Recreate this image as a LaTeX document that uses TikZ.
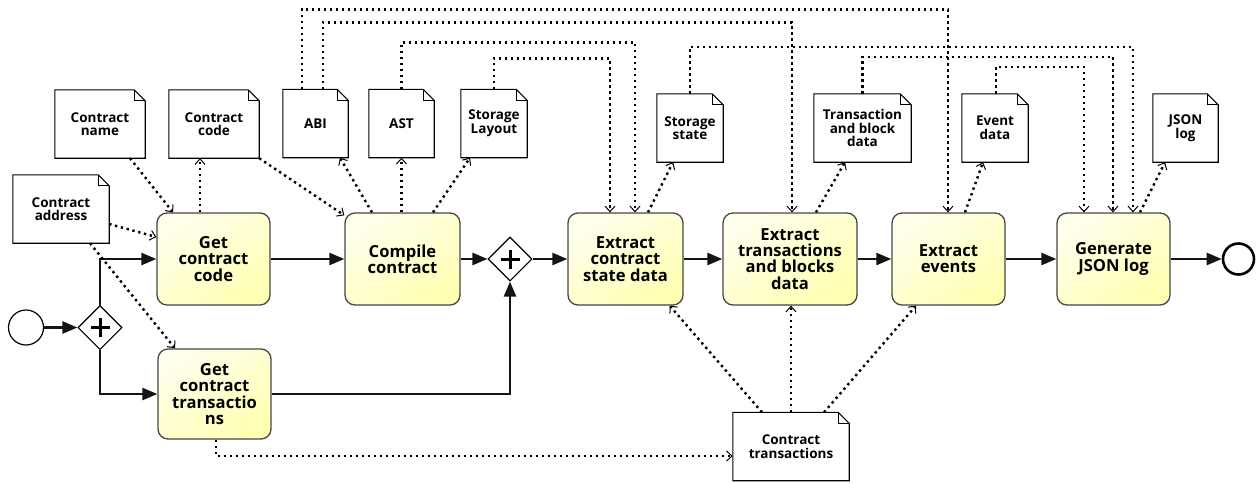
\documentclass[tikz,border=0pt]{standalone}
\usepackage{fontspec}
\setmainfont{Open Sans}
\usetikzlibrary{arrows.meta,shapes.geometric}

\tikzset{
  task/.style={rectangle, rounded corners=10pt, draw={rgb,255:red,70;green,70;blue,70},
    line width=1.3pt, top color={rgb,255:red,255;green,255;blue,236},
    bottom color={rgb,255:red,255;green,255;blue,180}, shading angle=35,
    minimum height=92pt, inner sep=0pt, align=center,
    font=\fontsize{16.6}{16.2}\selectfont\bfseries},
  dataobj/.style={rectangle, minimum height=68pt, inner sep=0pt, align=center,
    font=\fontsize{13.5}{13.6}\selectfont\bfseries},
  docline/.style={draw=black, fill=white, line width=1.1pt, line join=miter},
  gateway/.style={diamond, draw=black, fill=white, line width=1.1pt,
    minimum width=44pt, minimum height=44pt, inner sep=0pt,
    path picture={
      \draw[line width=3pt] ([xshift=-9.5pt]path picture bounding box.center)
        -- ([xshift=9.5pt]path picture bounding box.center);
      \draw[line width=3pt] ([yshift=-9.5pt]path picture bounding box.center)
        -- ([yshift=9.5pt]path picture bounding box.center);}},
  startev/.style={circle, draw=black, fill=white, line width=1.2pt,
    minimum size=35pt, inner sep=0pt},
  endev/.style={circle, draw=black, fill=white, line width=2.6pt,
    minimum size=31pt, inner sep=0pt},
  flow/.style={draw={rgb,255:red,20;green,20;blue,20}, line width=2.4pt,
    -{Triangle[length=15pt,width=12pt]}},
  assoc/.style={draw=black, line width=2.4pt, dash pattern=on 2.4pt off 3.6pt,
    -{Straight Barb[length=5.5pt,width=10pt,line width=1pt]}},
}

% a data object: named node with a folded-corner outline
\newcommand\dataobject[5]{%
  \node[dataobj, minimum width=#3] (#1) at (#2) {};
  \path[docline] (#1.south west) -- (#1.north west) -- ([xshift=-#4]#1.north east)
    -- ([yshift=-#4]#1.north east) -- (#1.south east) -- cycle;
  \draw[line width=1.1pt] ([xshift=-#4]#1.north east) -- ([xshift=-#4,yshift=-#4]#1.north east)
    -- ([yshift=-#4]#1.north east);
  \node[dataobj, minimum width=#3] at (#1.center) {#5};
}

\begin{document}
\begin{tikzpicture}[x=1pt,y=-1pt]
\useasboundingbox (0,0) rectangle (1258,483);

% events and gateways
\node[startev] (start) at (26,327.5) {};
\node[gateway] (g1) at (100,327.5) {};
\node[gateway] (g2) at (510,259) {};
\node[endev] (end) at (1238.5,259) {};

% tasks
\node[task, minimum width=113pt] (gcc) at (213.5,259) {Get\\contract\\code};
\node[task, minimum width=113pt, minimum height=90pt] (gct) at (214.5,394) {Get\\contract\\transactio\\ns};
\node[task, minimum width=115pt] (cc) at (402.5,259) {Compile\\contract};
\node[task, minimum width=115pt] (ecs) at (625.5,259) {Extract\\contract\\state data};
\node[task, minimum width=134pt] (etb) at (790,259) {Extract\\transactions\\and blocks\\data};
\node[task, minimum width=113pt] (ee) at (948.5,259) {Extract\\events};
\node[task, minimum width=113pt] (gj) at (1113.5,259) {Generate\\JSON log};

% data objects
\dataobject{cname}{100,124}{90pt}{11pt}{Contract\\name}
\dataobject{ccode}{214,124}{90pt}{11pt}{Contract\\code}
\dataobject{caddr}{61,209}{96pt}{11pt}{Contract\\address}
\dataobject{abi}{315.5,123.5}{65pt}{11pt}{ABI}
\dataobject{ast}{401.5,123.5}{65pt}{11pt}{AST}
\dataobject{slay}{494,123.5}{66pt}{11pt}{Storage\\Layout}
\dataobject{sstate}{690,128}{66pt}{11pt}{Storage\\state}
\dataobject{tbd}{862.5,128}{97pt}{11pt}{Transaction\\and block\\data}
\dataobject{evd}{995,128}{66pt}{11pt}{Event\\data}
\dataobject{jlog}{1185.5,128}{65pt}{11pt}{JSON\\log}
\dataobject{ctx}{791,446.5}{116pt}{11pt}{Contract\\transactions}

% sequence flows
\draw[flow] (start.east) -- (g1.west);
\draw[flow] (g1.north) |- (gcc.west);
\draw[flow] (g1.south) |- (gct.west);
\draw[flow] (gcc.east) -- (cc.west);
\draw[flow] (cc.east) -- (g2.west);
\draw[flow] (gct.east) -| (g2.south);
\draw[flow] (g2.east) -- (ecs.west);
\draw[flow] (ecs.east) -- (etb.west);
\draw[flow] (etb.east) -- (ee.west);
\draw[flow] (ee.east) -- (gj.west);
\draw[flow] (gj.east) -- (end.west);

% data associations
\draw[assoc] ([xshift=30pt]cname.south) -- ([xshift=-40.5pt]gcc.north);
\draw[assoc] ([xshift=-14pt]ccode.south |- gcc.north) -- ([xshift=-14pt]ccode.south);
\draw[assoc] ([yshift=-15pt]caddr.east) -- ([yshift=22pt]gcc.west);
\draw[assoc] ([xshift=29pt]caddr.south) -- ([xshift=-39.5pt]gct.north);
\draw[assoc] (ccode.south east) -- ([yshift=-3pt]cc.north west);
\draw[assoc] ([xshift=-30.5pt]cc.north) -- ([xshift=24.5pt]abi.south);
\draw[assoc] (ast.south |- cc.north) -- (ast.south);
\draw[assoc] ([xshift=30.5pt]cc.north) -- ([xshift=-24pt]slay.south);
\draw[assoc] ([xshift=-13.5pt]abi.north) -- ++(0,-80) -| ([xshift=-0.5pt]ee.north);
\draw[assoc] ([xshift=7.5pt]abi.north) -- ++(0,-67) -| ([xshift=2pt]etb.north);
\draw[assoc] (ast.north) -- ++(0,-47) -| ([xshift=9.5pt]ecs.north);
\draw[assoc] (slay.north) -- ++(0,-31) -| ([xshift=-15.5pt]ecs.north);
\draw[assoc] ([xshift=22.5pt]ecs.north) -- ([xshift=-17pt]sstate.south);
\draw[assoc] (sstate.north) -- ++(0,-47) -| ([xshift=19.5pt]gj.north);
\draw[assoc] ([xshift=26pt]etb.north) -- ([xshift=-17.5pt]tbd.south);
\draw[assoc] (tbd.north) -- ++(0,-37) -| ([xshift=-0.5pt]gj.north);
\draw[assoc] ([xshift=16.5pt]ee.north) -- ([xshift=-12pt]evd.south);
\draw[assoc] ([xshift=1pt]evd.north) -- ++(0,-27) -| ([xshift=-29.5pt]gj.north);
\draw[assoc] ([xshift=26.5pt]gj.north) -- ([xshift=-20.5pt]jlog.south);
\draw[assoc] ([xshift=1.5pt]gct.south) |- ([yshift=-9.5pt]ctx.west);
\draw[assoc] ([xshift=-29pt]ctx.north) -- ([xshift=-14pt]ecs.south east);
\draw[assoc] (ctx.north) -- (ctx.north |- etb.south);
\draw[assoc] ([xshift=33pt]ctx.north) -- ([xshift=-32.5pt]ee.south);
\end{tikzpicture}
\end{document}
